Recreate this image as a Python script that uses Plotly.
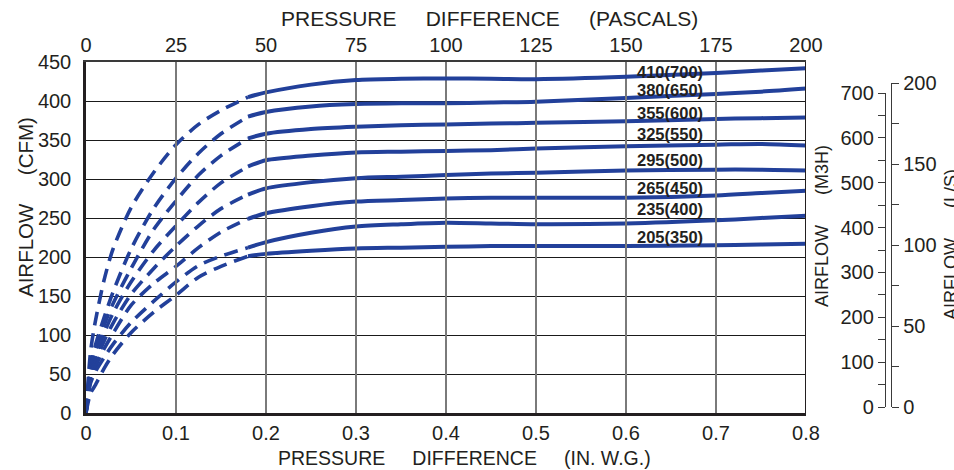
import plotly.graph_objects as go

# ---------------- data ----------------
labels = ["410(700)", "380(650)", "355(600)", "325(550)",
          "295(500)", "265(450)", "235(400)", "205(350)"]
label_y = [437, 414, 385, 358, 324, 289, 261, 226]   # CFM level of each label
label_x = 0.61                                      # in. w.g.

# dashed (low-pressure) part, in. w.g. / CFM
x_dash = [0, 0.005, 0.01, 0.02, 0.03, 0.05, 0.075, 0.1, 0.125, 0.15, 0.18]
dash_410 = [0, 78, 115, 170, 210, 263, 308, 344, 370, 388, 405]
dash_380 = [0, 60, 85, 122, 155, 210, 262, 301, 333, 358, 380]
dash_355 = [0, 55, 78, 112, 140, 185, 235, 272, 305, 330, 352]
dash_325 = [0, 50, 70, 102, 128, 168, 208, 240, 270, 295, 316]
dash_295 = [0, 46, 64, 92, 115, 152, 185, 214, 240, 262, 280]
dash_265 = [0, 42, 58, 82, 102, 138, 166, 188, 212, 232, 249]
dash_235 = [0, 38, 52, 71, 88, 116, 143, 168, 189, 201, 212]
dash_205 = [0, 25, 35, 57, 75, 103, 129, 151, 174, 188, 201]

# solid part
x_solid = [0.18, 0.2, 0.25, 0.3, 0.35, 0.4, 0.45, 0.5, 0.6, 0.7, 0.75, 0.8]
solid_410 = [405, 411, 421, 427, 428.5, 429, 428.5, 428, 431, 436, 439, 442]
solid_380 = [380, 386, 393, 396, 397, 397, 398, 399, 404, 409, 412, 416]
solid_355 = [352, 358, 364, 367, 369, 370, 371, 372, 374, 377, 378, 379]
solid_325 = [316, 324, 330, 334, 335, 336, 337, 339, 342, 344, 345, 343]
solid_295 = [280, 288, 296, 301, 303, 305, 307, 308, 311, 312, 312, 311]
solid_265 = [249, 256, 265, 271, 273, 275, 276, 276, 276, 279, 282, 285]
solid_235 = [212, 219, 231, 239, 242, 244, 243, 242, 243, 247, 250, 253]
solid_205 = [201, 204, 208, 211, 212, 213, 214, 214, 214, 215, 216, 217]

dash_series = [dash_410, dash_380, dash_355, dash_325, dash_295, dash_265, dash_235, dash_205]
solid_series = [solid_410, solid_380, solid_355, solid_325, solid_295, solid_265, solid_235, solid_205]

# axis ranges / ticks
x_range = [0, 0.8]
pa_range = [0, 200]
cfm_range = [0, 450]
m3h_range = [0, 700]
ls_range = [0, 200]

# ---------------- figure ----------------
W, H = 954, 470
ML, MR, MT, MB = 86, 4, 62, 57
paper_w = W - ML - MR
plot_w = 720
dom_end = plot_w / paper_w
plot_h = H - MT - MB
base_px = H - MB


def px_x(p):
    return (p - ML) / paper_w


def px_y(p):
    return (base_px - p) / plot_h


BLUE = "#22409A"
TXT = "#231f20"
FONT = "Liberation Sans, Arial, sans-serif"

fig = go.Figure()
for ys in dash_series:
    fig.add_trace(go.Scatter(x=x_dash, y=ys, mode="lines",
                             line=dict(color=BLUE, width=3.6, dash="14px,8px", shape="spline", smoothing=0.8),
                             hoverinfo="skip", showlegend=False))
for ys in solid_series:
    fig.add_trace(go.Scatter(x=x_solid, y=ys, mode="lines",
                             line=dict(color=BLUE, width=4, shape="spline", smoothing=0.8),
                             hoverinfo="skip", showlegend=False))

# invisible traces to activate the secondary axes
fig.add_trace(go.Scatter(x=pa_range, y=cfm_range, xaxis="x2", yaxis="y", mode="markers",
                         marker=dict(opacity=0), hoverinfo="skip", showlegend=False))
fig.add_trace(go.Scatter(x=x_range, y=m3h_range, xaxis="x", yaxis="y2", mode="markers",
                         marker=dict(opacity=0), hoverinfo="skip", showlegend=False))
fig.add_trace(go.Scatter(x=x_range, y=ls_range, xaxis="x", yaxis="y3", mode="markers",
                         marker=dict(opacity=0), hoverinfo="skip", showlegend=False))

tick_font = dict(family=FONT, size=20, color=TXT)

annotations = []
for lab, ly in zip(labels, label_y):
    annotations.append(dict(x=label_x, y=ly, xref="x", yref="y", text="<b>%s</b>" % lab,
                            showarrow=False, xanchor="left", yanchor="middle",
                            font=dict(family=FONT, size=16.5, color=TXT)))

sp = "\u00a0" * 5
annotations += [
    dict(x=px_x(489), y=px_y(18), xref="paper", yref="paper",
         text="PRESSURE" + sp + "DIFFERENCE" + sp + "(PASCALS)", showarrow=False,
         font=dict(family=FONT, size=21, color=TXT), xanchor="center", yanchor="middle"),
    dict(x=px_x(464), y=px_y(458), xref="paper", yref="paper",
         text="PRESSURE" + sp + "DIFFERENCE" + sp + "(IN. W.G.)", showarrow=False,
         font=dict(family=FONT, size=19.5, color=TXT), xanchor="center", yanchor="middle"),
    dict(x=px_x(25), y=px_y(207), xref="paper", yref="paper", textangle=-90,
         text="AIRFLOW" + sp + "(CFM)", showarrow=False,
         font=dict(family=FONT, size=20.5, color=TXT), xanchor="center", yanchor="middle"),
    dict(x=px_x(822), y=px_y(226), xref="paper", yref="paper", textangle=-90,
         text="AIRFLOW" + "\u00a0" * 6 + "(M3H)", showarrow=False,
         font=dict(family=FONT, size=18, color=TXT), xanchor="center", yanchor="middle"),
    dict(x=px_x(951), y=px_y(245), xref="paper", yref="paper", textangle=-90,
         text="AIRFLOW" + "\u00a0" * 6 + "(L/S)", showarrow=False,
         font=dict(family=FONT, size=18, color=TXT), xanchor="center", yanchor="middle"),
]

minor_ticks = dict(ticks="outside", ticklen=7, tickwidth=1.2, tickcolor="#3a3a3a", tick0=0)

fig.update_layout(
    width=W, height=H,
    margin=dict(l=ML, r=MR, t=MT, b=MB, pad=0, autoexpand=False),
    paper_bgcolor="white", plot_bgcolor="rgba(0,0,0,0)",
    showlegend=False,
    xaxis=dict(domain=[0, dom_end], range=x_range, dtick=0.1, tick0=0,
               showgrid=True, gridcolor="#7a7a7a", gridwidth=2,
               showline=True, linecolor="#231f20", linewidth=2.5, mirror=False,
               ticks="", tickfont=tick_font, ticklabelstandoff=0, zeroline=False,
               automargin=False),
    xaxis2=dict(domain=[0, dom_end], range=pa_range, dtick=25, tick0=0, overlaying="x",
                side="top", anchor="y", showgrid=False,
                showline=True, linecolor="#3a3a3a", linewidth=2, ticks="",
                tickfont=tick_font, ticklabelstandoff=0, zeroline=False, automargin=False),
    yaxis=dict(domain=[0, 1], range=cfm_range, dtick=50, tick0=0, showgrid=True, gridcolor="#1a1a1a",
               gridwidth=1.3, showline=True, linecolor="#231f20", linewidth=2.5,
               ticks="", tickfont=tick_font, ticklabelstandoff=8, zeroline=False,
               automargin=False),
    yaxis2=dict(domain=[px_y(407), px_y(93)], range=m3h_range, dtick=100, tick0=0,
                anchor="free", position=px_x(885), side="left", showgrid=False,
                showline=True, linecolor="#3a3a3a", linewidth=1.3,
                ticks="outside", ticklen=7, tickwidth=1.2, tickcolor="#3a3a3a",
                minor=dict(dtick=50, **minor_ticks),
                tickfont=tick_font, ticklabelstandoff=0, zeroline=False, automargin=False),
    yaxis3=dict(domain=[px_y(407), px_y(83)], range=ls_range, dtick=50, tick0=0,
                anchor="free", position=px_x(891), side="right", showgrid=False,
                showline=True, linecolor="#3a3a3a", linewidth=1.3,
                ticks="outside", ticklen=7, tickwidth=1.2, tickcolor="#3a3a3a",
                minor=dict(dtick=25, **minor_ticks),
                tickfont=tick_font, ticklabelstandoff=0, zeroline=False, automargin=False),
    annotations=annotations,
)

# right border of the plotting area
fig.add_shape(type="line", xref="x", yref="paper", x0=0.8, x1=0.8, y0=0, y1=1,
              line=dict(color="#231f20", width=2))

fig.write_html("out.html", config={"displayModeBar": False},
               post_script="document.body.style.margin='0';")
